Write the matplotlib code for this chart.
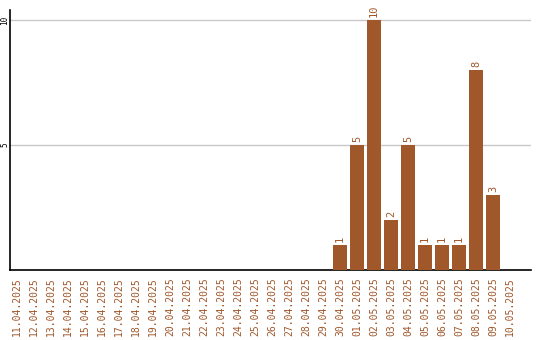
import matplotlib
matplotlib.use('Agg')
import matplotlib.pyplot as plt
import numpy as np

dates = ['11.04.2025', '12.04.2025', '13.04.2025', '14.04.2025', '15.04.2025',
         '16.04.2025', '17.04.2025', '18.04.2025', '19.04.2025', '20.04.2025',
         '21.04.2025', '22.04.2025', '23.04.2025', '24.04.2025', '25.04.2025',
         '26.04.2025', '27.04.2025', '28.04.2025', '29.04.2025', '30.04.2025',
         '01.05.2025', '02.05.2025', '03.05.2025', '04.05.2025', '05.05.2025',
         '06.05.2025', '07.05.2025', '08.05.2025', '09.05.2025', '10.05.2025']
counts = [0, 0, 0, 0, 0, 0, 0, 0, 0, 0,
          0, 0, 0, 0, 0, 0, 0, 0, 0, 1,
          5, 10, 2, 5, 1, 1, 1, 8, 3, 0]

brown = '#A0572A'
mono = 'DejaVu Sans Mono'

fig = plt.figure(figsize=(5.4, 3.4), dpi=100)
ax = fig.add_axes([10/540, 70/340, 521/540, 260/340])

x = np.arange(len(dates))
ax.bar(x, counts, width=0.82, color=brown, zorder=3)

for xi, v in zip(x, counts):
    if v > 0:
        ax.text(xi, v + 0.12, str(v), rotation=90, ha='center', va='bottom',
                color=brown, fontsize=7.5, family=mono)

ax.set_xlim(-0.41, 30.24)
ax.set_ylim(0, 10.4)
ax.set_yticks([5, 10])
ax.set_yticklabels(['5', '10'], rotation=90, va='center', fontsize=5.5, family=mono)
ax.yaxis.grid(True, color='#c8c8c8', linewidth=1, zorder=0)
ax.tick_params(axis='y', length=0, pad=0.5)

ax.set_xticks(x)
ax.set_xticklabels(dates, rotation=90, color=brown, fontsize=7, family=mono)
ax.tick_params(axis='x', length=0, pad=5)

for s in ['top', 'right']:
    ax.spines[s].set_visible(False)
ax.spines['left'].set_color('black')
ax.spines['bottom'].set_color('black')
ax.spines['left'].set_linewidth(1.2)
ax.spines['bottom'].set_linewidth(1.2)

plt.savefig('out.png', dpi=100)
